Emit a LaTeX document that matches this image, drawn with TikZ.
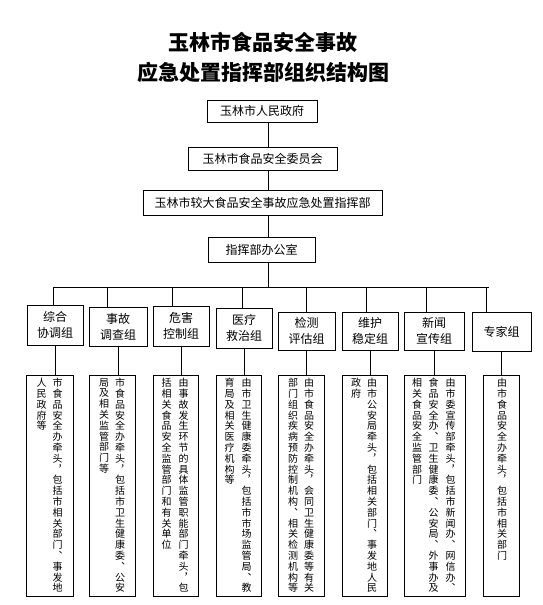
\documentclass[tikz,border=0pt]{standalone}
\usepackage{fontspec}
\newfontfamily\cjk{Noto Sans CJK SC}
\newfontfamily\cjkv[RawFeature=+vert]{Noto Sans CJK SC}
\usetikzlibrary{positioning}

% stack the characters of a duty text one below the other
\def\vstack#1{\vstackstep#1\relax}
\def\vstackstep#1#2{#1\ifx\relax#2\else\par\expandafter\vstackstep\expandafter#2\fi}

\tikzset{
  unit/.style={draw=black, line width=0.8pt, inner sep=0pt, align=center,
    font=\cjk\fontsize{12}{16}\selectfont},
  duty/.style={draw=black, line width=0.8pt, minimum width=#1, minimum height=221pt},
  col/.style={anchor=north, inner sep=0pt, text width=11pt, align=center,
    font=\cjkv\fontsize{10}{10.8}\selectfont},
  link/.style={line width=0.8pt}
}

\begin{document}
\begin{tikzpicture}[x=1pt,y=-1pt]
  \useasboundingbox (0,0) rectangle (543,605);

  \node[font=\cjk\bfseries\fontsize{21}{30}\selectfont, align=center] (title) at (263,57)
    {玉林市食品安全事故\\应急处置指挥部组织结构图};

  % command chain
  \node[unit, minimum width=110pt, minimum height=22pt] (gov) at (262,111) {玉林市人民政府};
  \node[unit, minimum width=149pt, minimum height=23pt] (fsc) at (262.5,158.5) {玉林市食品安全委员会};
  \node[unit, minimum width=239pt, minimum height=25pt] (hq) at (262.5,202.5) {玉林市较大食品安全事故应急处置指挥部};
  \node[unit, minimum width=107pt, minimum height=25pt] (office) at (261.5,249.5) {指挥部办公室};

  \coordinate (bus) at (268,287);
  \draw[link] (gov.south -| bus) -- (fsc.north -| bus);
  \draw[link] (fsc.south -| bus) -- (hq.north -| bus);
  \draw[link] (hq.south -| bus) -- (office.north -| bus);
  \draw[link] (office.south -| bus) -- (bus);

  % working groups
  \foreach \name/\x/\y/\w/\h/\txt in {
      g1/55/325/56/40/{综合\\协调组},
      g2/118/326.5/58/39/{事故\\调查组},
      g3/181/326/56/40/{危害\\控制组},
      g4/244/328/56/40/{医疗\\救治组},
      g5/306.5/331/57/38/{检测\\评估组},
      g6/370/331/56/38/{维护\\稳定组},
      g7/434/331/60/38/{新闻\\宣传组},
      g8/501.5/331.5/59/39/{专家组}}
    \node[unit, minimum width=\w pt, minimum height=\h pt] (\name) at (\x,\y) {\txt};

  \foreach \i/\dx in {1/-2,2/-11,3/-9,4/-2,5/0,6/-4,7/-8,8/-15} {
    \path (g\i.north) ++(\dx,0) coordinate (top\i);
    \draw[link] (top\i) -- (top\i |- bus);
  }
  \draw[link] (top1 |- bus) -- ([xshift=2pt]top8 |- bus);

  % duties
  \foreach \i/\x/\w in {1/49.5/47,2/112/46,3/175.5/45,4/238.5/45,
                        5/301/46,6/364.5/45,7/434.5/61,8/501/36}
    \node[duty=\w pt] (d\i) at (\x,485.5) {};
  \foreach \i in {1,...,8}
    \draw[link] (g\i.south) -- (g\i.south |- d\i.north);

  \node[col] (d1a) at ([xshift=8pt,yshift=-3.5pt]d1.north) {\vstack{市食品安全办牵头，包括市相关部门、事发地}};
  \node[col] (d1b) at ([xshift=-8pt,yshift=-3.5pt]d1.north) {\vstack{人民政府等}};
  \node[col] (d2a) at ([xshift=8pt,yshift=-3.5pt]d2.north) {\vstack{市食品安全办牵头，包括市卫生健康委、公安}};
  \node[col] (d2b) at ([xshift=-8pt,yshift=-3.5pt]d2.north) {\vstack{局及相关监管部门等}};
  \node[col] (d3a) at ([xshift=8pt,yshift=-3.5pt]d3.north) {\vstack{由事故发生环节的具体监管职能部门牵头，包}};
  \node[col] (d3b) at ([xshift=-9pt,yshift=-3.5pt]d3.north) {\vstack{括相关食品安全监管部门和有关单位}};
  \node[col] (d4a) at ([xshift=8pt,yshift=-3.5pt]d4.north) {\vstack{由市卫生健康委牵头，包括市市场监管局、教}};
  \node[col] (d4b) at ([xshift=-9pt,yshift=-3.5pt]d4.north) {\vstack{育局及相关医疗机构等}};
  \node[col] (d5a) at ([xshift=8pt,yshift=-3.5pt]d5.north) {\vstack{由市食品安全办牵头，会同卫生健康委等有关}};
  \node[col] (d5b) at ([xshift=-8pt,yshift=-3.5pt]d5.north) {\vstack{部门组织疾病预防控制机构、相关检测机构等}};
  \node[col] (d6a) at ([xshift=7.5pt,yshift=-3.5pt]d6.north) {\vstack{由市公安局牵头，包括相关部门、事发地人民}};
  \node[col] (d6b) at ([xshift=-8.5pt,yshift=-3.5pt]d6.north) {\vstack{政府}};
  \node[col] (d7a) at ([xshift=16pt,yshift=-3.5pt]d7.north) {\vstack{由市委宣传部牵头，包括市新闻办、网信办、}};
  \node[col] (d7b) at ([xshift=-1pt,yshift=-3.5pt]d7.north) {\vstack{食品安全办、卫生健康委、公安局、外事办及}};
  \node[col] (d7c) at ([xshift=-17.5pt,yshift=-3.5pt]d7.north) {\vstack{相关食品安全监管部门}};
  \node[col] (d8a) at ([xshift=1pt,yshift=-3.5pt]d8.north) {\vstack{由市食品安全办牵头，包括市相关部门}};
\end{tikzpicture}
\end{document}
